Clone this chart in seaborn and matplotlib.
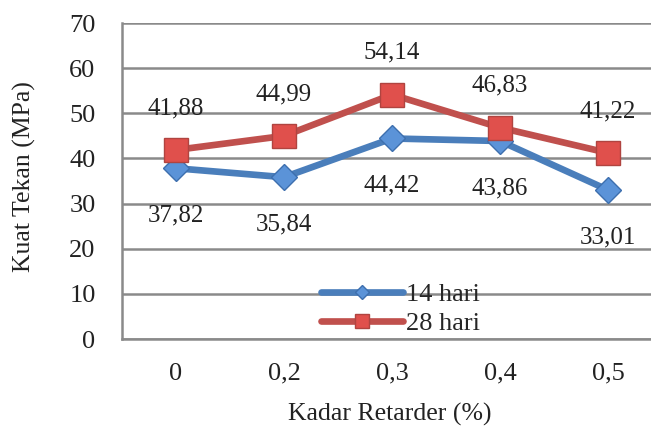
import matplotlib
matplotlib.use("Agg")
import matplotlib.pyplot as plt
from matplotlib.lines import Line2D
import seaborn as sns
import pandas as pd

# Retarder dosage categories and compressive strength (MPa)
kadar = ["0", "0,2", "0,3", "0,4", "0,5"]
hari_14 = [37.82, 35.84, 44.42, 43.86, 33.01]
hari_28 = [41.88, 44.99, 54.14, 46.83, 41.22]
y_ticks = [0, 10, 20, 30, 40, 50, 60, 70]

sns.set_theme(style="white")
plt.rcParams["font.family"] = ["Liberation Serif", "DejaVu Serif"]

df = pd.DataFrame({
    "Kadar": kadar * 2,
    "pos": list(range(len(kadar))) * 2,
    "Kuat": hari_14 + hari_28,
    "Umur": ["14 hari"] * len(kadar) + ["28 hari"] * len(kadar),
})

fig = plt.figure(figsize=(6.51, 4.32), dpi=100)
ax = fig.add_axes([122 / 651, (432 - 339) / 432, 540 / 651, 316 / 432])

palette = {"14 hari": "#4a7ebb", "28 hari": "#c0504d"}
markers = {"14 hari": "D", "28 hari": "s"}
sns.lineplot(data=df, x="pos", y="Kuat", hue="Umur", style="Umur",
             palette=palette, markers=markers, dashes=False,
             linewidth=4.8, markersize=13, ax=ax, legend=False)

# lighter marker faces with darker outlines
styles = [("#5b93d8", "#3d6fae", 13.5), ("#e0504c", "#b04440", 17.5)]
for line, (face, edge, ms) in zip(ax.get_lines()[:2], styles):
    line.set_markerfacecolor(face)
    line.set_markeredgecolor(edge)
    line.set_markeredgewidth(1.0)
    line.set_markersize(ms)

ax.set_ylim(0, 70)
ax.set_xlim(-0.5, 4.5)
ax.set_yticks(y_ticks)
ax.set_xticks(range(len(kadar)))
ax.set_xticklabels(kadar)
ax.tick_params(axis="both", labelsize=19, length=0, colors="#222222")
ax.tick_params(axis="x", pad=17)
ax.tick_params(axis="y", pad=19)

ax.grid(axis="y", color="#8a8a8a", linewidth=1.8)
ax.set_axisbelow(True)
for side in ["top", "right"]:
    ax.spines[side].set_visible(False)
for side in ["left", "bottom"]:
    ax.spines[side].set_color("#8a8a8a")
    ax.spines[side].set_linewidth(1.8)

ax.set_xlabel("Kadar Retarder (%)", fontsize=18.5, color="#222222", va="center")
ax.set_ylabel("Kuat Tekan (MPa)", fontsize=18.5, color="#222222", va="center")
ax.xaxis.set_label_coords(0.495, -0.24)
ax.yaxis.set_label_coords(-0.18, 0.514)

# value labels: 28-day above, 14-day below
for i, v in enumerate(hari_28):
    ax.annotate(f"{v:.2f}".replace(".", ","), (i, v), xytext=(0, 30),
                textcoords="offset points", ha="center", va="center",
                fontsize=18, color="#222222")
for i, v in enumerate(hari_14):
    ax.annotate(f"{v:.2f}".replace(".", ","), (i, v), xytext=(0, -34),
                textcoords="offset points", ha="center", va="center",
                fontsize=18, color="#222222")

handles = [
    Line2D([], [], color=palette["14 hari"], linewidth=4.8, marker="D", markersize=7.5,
           markerfacecolor="#5b93d8", markeredgecolor="#3d6fae"),
    Line2D([], [], color=palette["28 hari"], linewidth=4.8, marker="s", markersize=10,
           markerfacecolor="#e0504c", markeredgecolor="#b04440"),
]
ax.legend(handles, ["14 hari", "28 hari"], loc="center left",
          bbox_to_anchor=(186 / 540, (339 - 309) / 316), frameon=False,
          fontsize=19, handlelength=3.1, handletextpad=0.1, labelspacing=0.22,
          borderpad=0)

fig.savefig("out.png", dpi=100)
